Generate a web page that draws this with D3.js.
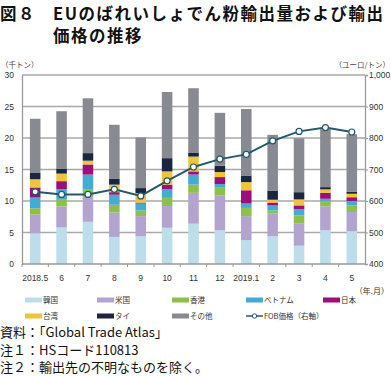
<!DOCTYPE html>
<html>
<head>
<meta charset="utf-8">
<script src="https://cdn.jsdelivr.net/npm/d3@7"></script>
<style>
  body { margin: 0; background: #fff; }
  svg { display: block; font-family: "Noto Sans CJK JP", "Noto Sans", sans-serif; }
</style>
</head>
<body>
<script>
// months on x axis
const months = ["2018.5", "6", "7", "8", "9", "10", "11", "12", "2019.1", "2", "3", "4", "5"];

// export volume by destination (thousand t)
const korea   = [4.85, 5.8, 6.7, 4.3, 4.4, 5.75, 6.4, 5.35, 3.8, 4.4, 2.9, 5.35, 5.2];
const usa     = [3.0, 3.35, 3.9, 3.9, 3.2, 3.45, 4.9, 5.55, 3.8, 3.6, 3.5, 3.8, 3.05];
const hk      = [1.0, 1.05, 1.2, 1.2, 0.9, 1.3, 1.3, 1.2, 1.3, 0.5, 1.3, 0.8, 1.05];
const vietnam = [1.7, 1.65, 2.4, 1.6, 1.1, 1.35, 1.6, 0.6, 0.7, 0.8, 1.0, 0.4, 0.7];
const japan   = [1.6, 1.3, 1.6, 0.4, 0.15, 0.75, 0.5, 1.1, 2.1, 0.45, 0.6, 0.95, 0.6];
const taiwan  = [1.3, 1.2, 0.6, 1.2, 1.5, 2.1, 2.35, 0.8, 1.3, 0.45, 0.95, 0.55, 0.55];
const thai    = [1.0, 0.8, 1.2, 0.9, 0.8, 2.1, 0.65, 1.0, 1.05, 1.4, 1.15, 0.35, 0.35];
const others  = [8.6, 9.1, 8.7, 8.6, 8.05, 10.5, 10.2, 8.4, 10.55, 8.9, 8.55, 9.2, 9.1];

// FOB price (euro/t), right axis
const fob = [629, 621, 621, 637, 616, 664, 708, 733, 748, 791, 821, 833, 819];

const seriesNames = ["韓国", "米国", "香港", "ベトナム", "日本", "台湾", "タイ", "その他"];
const seriesData = [korea, usa, hk, vietnam, japan, taiwan, thai, others];
const colors = ["#bcdde9", "#b3a3cf", "#8cc04b", "#45abd3", "#9c0f7b", "#efc33c", "#1a2540", "#878a90"];

const leftTicks = [0, 5, 10, 15, 20, 25, 30];
const rightTicks = [400, 500, 600, 700, 800, 900, 1000];

const width = 391, height = 376;
const svg = d3.select("body").append("svg")
    .attr("width", width)
    .attr("height", height);

// title
const title = svg.append("g")
    .attr("font-weight", "bold")
    .attr("font-size", 16.5)
    .attr("fill", "#111");
title.append("text").attr("x", 0).attr("y", 20).attr("letter-spacing", 1.5).text("図８");
title.append("text").attr("x", 53).attr("y", 20).attr("letter-spacing", 1.5)
    .text("EUのばれいしょでん粉輸出量および輸出");
title.append("text").attr("x", 53).attr("y", 42).attr("letter-spacing", 1.5).text("価格の推移");

// units
svg.append("text").attr("x", 1).attr("y", 68)
    .attr("font-size", 7.5).attr("fill", "#444").text("（千トン）");
svg.append("text").attr("x", 390).attr("y", 68).attr("text-anchor", "end")
    .attr("font-size", 7.5).attr("fill", "#444").text("（ユーロ/トン）");

// scales
const x = d3.scaleBand().domain(months).range([22, 365])
    .paddingInner(0.6).paddingOuter(0.3);
const y = d3.scaleLinear().domain([0, 30]).range([264, 75]);
const y2 = d3.scaleLinear().domain([400, 1000]).range([264, 75]);

// gridlines
svg.append("g").selectAll("line")
    .data(leftTicks.slice(1))
    .join("line")
    .attr("x1", 22).attr("x2", 365)
    .attr("y1", d => y(d)).attr("y2", d => y(d))
    .attr("stroke", "#a9a9a9").attr("stroke-width", 1.3);

// stacked bars
const table = months.map((m, i) => {
    const row = { month: m };
    seriesNames.forEach((s, j) => row[s] = seriesData[j][i]);
    return row;
});
const stacked = d3.stack().keys(seriesNames)(table);

svg.append("g").selectAll("g")
    .data(stacked)
    .join("g")
    .attr("fill", (d, i) => colors[i])
    .selectAll("rect")
    .data(d => d)
    .join("rect")
    .attr("x", d => x(d.data.month))
    .attr("width", x.bandwidth())
    .attr("y", d => y(d[1]))
    .attr("height", d => y(d[0]) - y(d[1]));

// left axis
const leftAxis = svg.append("g")
    .attr("transform", "translate(22,0)")
    .call(d3.axisLeft(y).tickValues(leftTicks).tickSize(0).tickPadding(8));
leftAxis.select(".domain").attr("stroke", "#999").attr("stroke-width", 1.3);
leftAxis.selectAll("text").attr("font-size", 8.5).attr("fill", "#333")
    .attr("font-family", "Liberation Sans, Arial, sans-serif");

// right axis
const rightAxis = svg.append("g")
    .attr("transform", "translate(365,0)")
    .call(d3.axisRight(y2).tickValues(rightTicks).tickSize(3).tickPadding(1)
        .tickFormat(d3.format(",")));
rightAxis.select(".domain").attr("stroke", "#999").attr("stroke-width", 1.3);
rightAxis.selectAll("line").attr("stroke", "#999");
rightAxis.selectAll("text").attr("font-size", 8.5).attr("fill", "#333")
    .attr("font-family", "Liberation Sans, Arial, sans-serif");

// bottom axis
const bottom = svg.append("g").attr("transform", "translate(0,264)");
bottom.append("line").attr("x1", 22).attr("x2", 365)
    .attr("stroke", "#999").attr("stroke-width", 1.3);
bottom.selectAll(".tk")
    .data(months)
    .join("line")
    .attr("x1", d => x(d) - x.step() * x.paddingInner() / 2)
    .attr("x2", d => x(d) - x.step() * x.paddingInner() / 2)
    .attr("y1", 0).attr("y2", 3)
    .attr("stroke", "#999");
bottom.selectAll("text")
    .data(months)
    .join("text")
    .attr("x", d => x(d) + x.bandwidth() / 2)
    .attr("y", 17)
    .attr("text-anchor", "middle")
    .attr("font-size", 8.5).attr("fill", "#333")
    .attr("font-family", "Liberation Sans, Arial, sans-serif")
    .text(d => d);
svg.append("text").attr("x", 389).attr("y", 294).attr("text-anchor", "end")
    .attr("font-size", 8).attr("fill", "#333").text("（年.月）");

// FOB line
const line = d3.line()
    .x((d, i) => x(months[i]) + x.bandwidth() / 2)
    .y(d => y2(d));
svg.append("path")
    .datum(fob)
    .attr("d", line)
    .attr("fill", "none")
    .attr("stroke", "#24586a")
    .attr("stroke-width", 2);
svg.append("g").selectAll("circle")
    .data(fob)
    .join("circle")
    .attr("cx", (d, i) => x(months[i]) + x.bandwidth() / 2)
    .attr("cy", d => y2(d))
    .attr("r", 3)
    .attr("fill", "#fff")
    .attr("stroke", "#24586a")
    .attr("stroke-width", 1.2);

// legend
const legendX = [25, 97, 172, 246, 323];
const legendItems = seriesNames.map((s, i) => ({ name: s, color: colors[i] }));
legendItems.push({ name: "FOB価格（右軸）", line: true });
const legend = svg.append("g");
legendItems.forEach((d, i) => {
    const lx = legendX[i % 5];
    const ly = i < 5 ? 300 : 316;
    if (d.line) {
        legend.append("line").attr("x1", lx).attr("x2", lx + 17)
            .attr("y1", ly).attr("y2", ly)
            .attr("stroke", "#24586a").attr("stroke-width", 1.5);
        legend.append("circle").attr("cx", lx + 8.5).attr("cy", ly).attr("r", 2.2)
            .attr("fill", "#fff").attr("stroke", "#24586a");
    } else {
        legend.append("rect").attr("x", lx).attr("y", ly - 2.5)
            .attr("width", 17).attr("height", 5).attr("fill", d.color);
    }
    legend.append("text").attr("x", lx + 18).attr("y", ly + 3)
        .attr("font-size", 7.5).attr("fill", "#333").text(d.name);
});

// notes
const notes = ["資料：「Global Trade Atlas」", "注１：HSコード110813", "注２：輸出先の不明なものを除く。"];
svg.append("g").selectAll("text")
    .data(notes)
    .join("text")
    .attr("x", 0)
    .attr("y", (d, i) => 337 + i * 17.5)
    .attr("font-size", 13)
    .attr("fill", "#111")
    .text(d => d);
</script>
</body>
</html>
